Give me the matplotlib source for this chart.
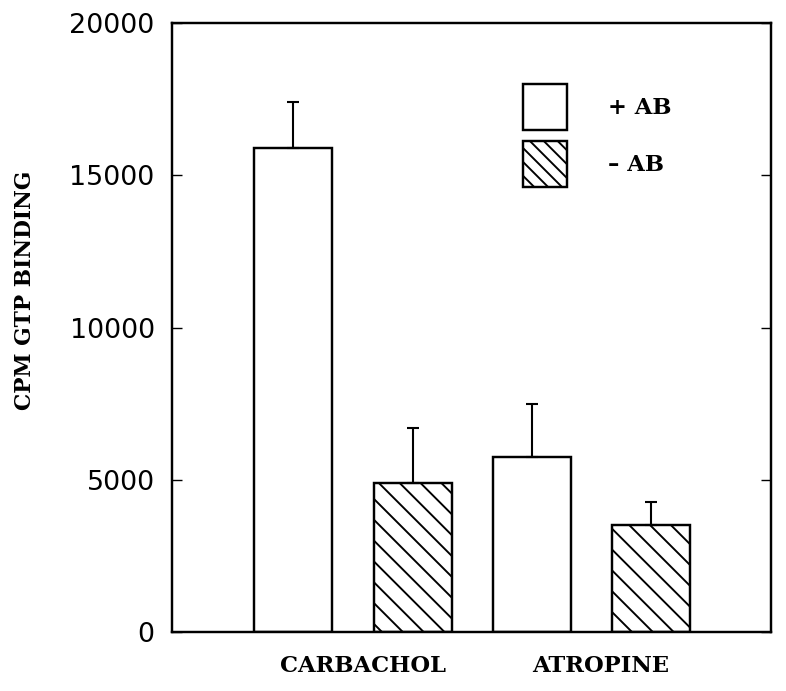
import matplotlib
matplotlib.use("Agg")
import matplotlib.pyplot as plt
import numpy as np
from matplotlib.patches import Patch

# data
categories = ["CARBACHOL", "ATROPINE"]
plus_ab = [15900, 5750]
plus_err = [1500, 1750]
minus_ab = [4900, 3500]
minus_err = [1800, 770]
series_labels = ["+ AB", "\u2013 AB"]
yticks = [0, 5000, 10000, 15000, 20000]

plt.rcParams['hatch.linewidth'] = 1.1

DPI = 125
fig = plt.figure(figsize=(786 / DPI, 691 / DPI), dpi=DPI)
ax = fig.add_axes([172 / 786, 59 / 691, 599 / 786, 609 / 691])

serif_bold = dict(family="DejaVu Serif", weight="bold", size=13)

grp = np.arange(len(categories)) * 2
w = 0.655
ekw = dict(elinewidth=1.2, capthick=1.2, ecolor="black")
ax.bar(grp, plus_ab, width=w, color="white", edgecolor="black", linewidth=1.4,
       yerr=[np.zeros(len(plus_err)), plus_err], capsize=3.5, error_kw=ekw, zorder=2)
ax.bar(grp + 1, minus_ab, width=w, color="white", edgecolor="black", linewidth=1.4,
       hatch="\\\\", yerr=[np.zeros(len(minus_err)), minus_err], capsize=3.5,
       error_kw=ekw, zorder=2)

ax.set_xlim(-1.02, 4.01)
ax.set_ylim(0, 20000)
ax.set_yticks(yticks)
ax.set_xticks([])
ax.tick_params(axis="y", direction="in", length=5.5, width=0.8, right=True,
               labelsize=15.5, pad=10)
for lab in ax.get_yticklabels():
    lab.set_family("DejaVu Sans")
for s in ax.spines.values():
    s.set_linewidth(1.4)

for i, c in enumerate(categories):
    ax.text(grp[i] + 0.5 + 0.08, -0.056, c, transform=ax.get_xaxis_transform(),
            ha="center", va="center", **serif_bold)

fig.text(25 / 786, 1 - 290 / 691, "CPM GTP BINDING", rotation=90,
         ha="center", va="center", family="DejaVu Serif", weight="bold", size=12.5)

handles = [Patch(facecolor="white", edgecolor="black", linewidth=1.4),
           Patch(facecolor="white", edgecolor="black", linewidth=1.4, hatch="\\\\\\")]
leg = ax.legend(handles, series_labels, loc="upper left",
                bbox_to_anchor=(0.586, 0.9), frameon=False, borderpad=0,
                borderaxespad=0, handlelength=1.95, handleheight=2.76,
                handletextpad=1.8, labelspacing=0.5, prop=serif_bold)

fig.savefig("out.png", dpi=DPI)
